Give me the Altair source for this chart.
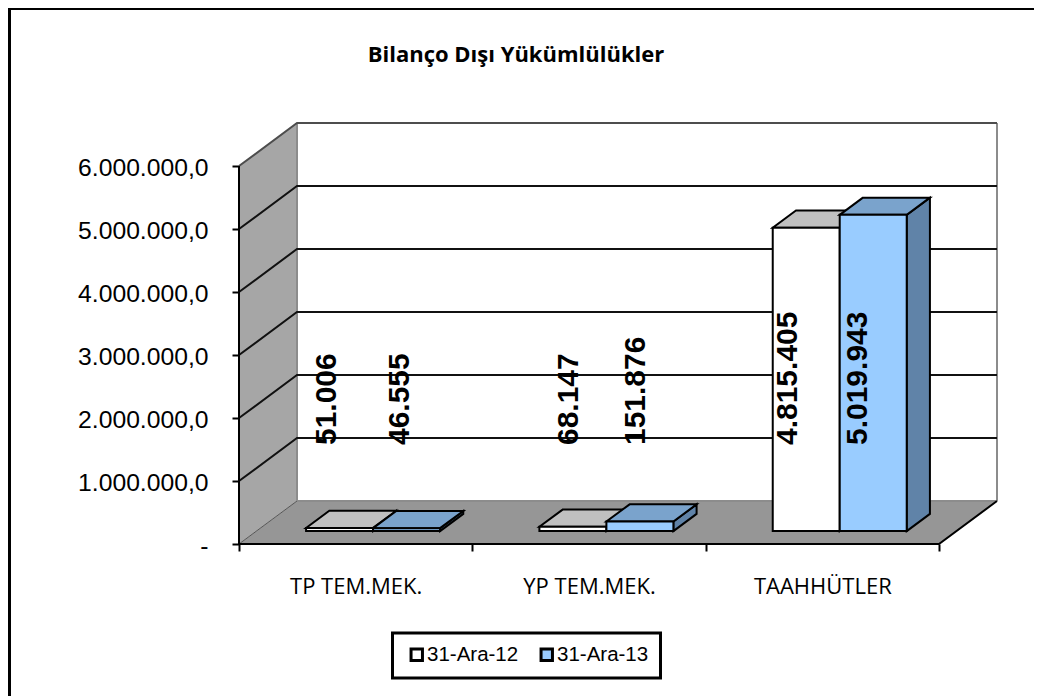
import json
import altair as alt
import pandas as pd

CATEGORIES = ["TP TEM.MEK.", "YP TEM.MEK.", "TAAHHÜTLER"]
SERIES = ["31-Ara-12", "31-Ara-13"]
VALUES_12 = [51006, 68147, 4815405]
VALUES_13 = [46555, 151876, 5019943]
LABELS_12 = ["51.006", "68.147", "4.815.405"]
LABELS_13 = ["46.555", "151.876", "5.019.943"]
LABEL_SHIFT_12 = [-0.056, -0.017, -0.077]
LABEL_SHIFT_13 = [-0.026, -0.017, -0.064]
TICKS = [0, 1000000, 2000000, 3000000, 4000000, 5000000, 6000000]
TICK_LABELS = ["-", "1.000.000,0", "2.000.000,0", "3.000.000,0", "4.000.000,0", "5.000.000,0", "6.000.000,0"]
LABEL_BASE = 1571000

# oblique projection: one unit of depth, in the units of the two scales
DX = 0.2486
DY = 682540
BAR_W = 0.2871
GAP = 0.2129
D0, D1 = 0.3, 0.7
XMAX = 3 + DX
YMAX = 6000000 + DY

FRONT = {"31-Ara-12": "#FFFFFF", "31-Ara-13": "#99CCFF"}
TOP = {"31-Ara-12": "#C0C0C0", "31-Ara-13": "#7AA3CC"}
SIDE = {"31-Ara-12": "#A0A0A0", "31-Ara-13": "#6083A8"}

xs = alt.Scale(domain=[0, XMAX], nice=False, zero=False)
ys = alt.Scale(domain=[0, YMAX], nice=False, zero=False)


def X(f="x", axis=None):
    return alt.X(f"{f}:Q", scale=xs, axis=axis, stack=None, title=None)


def Y(f="y", axis=None):
    return alt.Y(f"{f}:Q", scale=ys, axis=axis, stack=None, title=None)


X2 = alt.X2("x2:Q")
Y2 = alt.Y2("y2:Q")

bars = []
for s, (name, vals, labs, shifts) in enumerate(
    [(SERIES[0], VALUES_12, LABELS_12, LABEL_SHIFT_12), (SERIES[1], VALUES_13, LABELS_13, LABEL_SHIFT_13)]
):
    for c, (v, l, sh) in enumerate(zip(vals, labs, shifts)):
        left = c + GAP + s * BAR_W + D0 * DX
        bars.append(
            dict(id=f"{s}-{c}", series=name, cat=CATEGORIES[c], value=v, label=l,
                 x=left, x2=left + BAR_W, y=D0 * DY, y2=D0 * DY + v,
                 tx=left + BAR_W / 2 + sh, ty=LABEL_BASE)
        )
bars_df = pd.DataFrame(bars)

sides, tops = [], []
for b in bars:
    d = (D1 - D0)
    r = b["x2"]
    sides += [
        dict(id=b["id"], x=r, y=b["y"], y2=b["y2"], fill=SIDE[b["series"]]),
        dict(id=b["id"], x=r + d * DX, y=b["y"] + d * DY, y2=b["y2"] + d * DY, fill=SIDE[b["series"]]),
    ]
    tops += [
        dict(id=b["id"], y=b["y2"], x=b["x"], x2=b["x2"], fill=TOP[b["series"]]),
        dict(id=b["id"], y=b["y2"] + d * DY, x=b["x"] + d * DX, x2=b["x2"] + d * DX, fill=TOP[b["series"]]),
    ]
sides_df = pd.DataFrame(sides)
tops_df = pd.DataFrame(tops)

floor_df = pd.DataFrame([dict(y=0, x=0, x2=3), dict(y=DY, x=DX, x2=3 + DX)])
wall_df = pd.DataFrame([dict(x=0, y=0, y2=6000000), dict(x=DX, y=DY, y2=YMAX)])

grid = []
for v in TICKS[1:-1]:
    grid += [dict(id=v, i=0, x=0, y=v), dict(id=v, i=1, x=DX, y=v + DY), dict(id=v, i=2, x=XMAX, y=v + DY)]
grid_df = pd.DataFrame(grid)

outer = pd.DataFrame(
    [dict(id="top", i=0, x=0, y=6000000), dict(id="top", i=1, x=DX, y=YMAX), dict(id="top", i=2, x=XMAX, y=YMAX)]
)
wall_edge = pd.DataFrame(
    [dict(id="a", i=0, x=DX, y=DY), dict(id="a", i=1, x=DX, y=YMAX),
     dict(id="b", i=0, x=DX, y=DY), dict(id="b", i=1, x=XMAX, y=DY),
     dict(id="c", i=0, x=XMAX, y=DY), dict(id="c", i=1, x=XMAX, y=YMAX)]
)
dark_edge = pd.DataFrame(
    [dict(id="a", i=0, x=0, y=0), dict(id="a", i=1, x=0, y=6000000),
     dict(id="b", i=0, x=0, y=0), dict(id="b", i=1, x=3, y=0), dict(id="b", i=2, x=XMAX, y=DY)]
)
thin_edge = pd.DataFrame([dict(id="a", i=0, x=0, y=0), dict(id="a", i=1, x=DX, y=DY)])

tick_expr = f"{json.dumps(TICK_LABELS)}[datum.value / 1000000]"
cat_expr = (
    f"datum.value === 0.5 ? '{CATEGORIES[0]}' : datum.value === 1.5 ? '{CATEGORIES[1]}' : "
    f"datum.value === 2.5 ? '{CATEGORIES[2]}' : ''"
)

y_axis = alt.Axis(values=TICKS, labelExpr=tick_expr, domain=False, grid=False, tickColor="black",
                  tickWidth=2, tickSize=7, labelFont="Liberation Sans", labelFontSize=24.7, labelColor="black",
                  labelPadding=24, labelOverlap=False, labelOffset=2)
x_axis = alt.Axis(values=[0, 0.5, 1, 1.5, 2, 2.5, 3], labelExpr=cat_expr, domain=False, grid=False,
                  tickColor="black", tickWidth=2, tickSize=7,
                  tickOpacity={"condition": {"test": "datum.value % 1 === 0", "value": 1}, "value": 0},
                  labelFont="Open Sans", labelFontSize=22, labelColor="black", labelPadding=25,
                  labelOverlap=False, labelFlush=False)

floor = alt.Chart(floor_df).mark_area(orient="horizontal", color="#969696").encode(y=Y(), x=X(), x2=X2)
wall = alt.Chart(wall_df).mark_area(orient="vertical", color="#A6A6A6").encode(x=X(), y=Y(), y2=Y2)
line_enc = dict(x=X(), y=Y(), detail="id:N", order="i:Q")
thin = alt.Chart(thin_edge).mark_line(color="#555555", strokeWidth=1).encode(**line_enc)
edges = alt.Chart(wall_edge).mark_line(color="#8C8C8C", strokeWidth=2).encode(**line_enc)
outer_l = alt.Chart(outer).mark_line(color="#4D4D4D", strokeWidth=2).encode(**line_enc)
gridl = alt.Chart(grid_df).mark_line(color="#111111", strokeWidth=2).encode(**line_enc)
dark = alt.Chart(dark_edge).mark_line(color="black", strokeWidth=2).encode(**line_enc)

side_l = alt.Chart(sides_df).mark_area(orient="vertical", stroke="black", strokeWidth=2).encode(
    x=X(), y=Y(), y2=Y2, detail="id:N", fill=alt.Fill("fill:N", scale=None)
)
top_l = alt.Chart(tops_df).mark_area(orient="horizontal", stroke="black", strokeWidth=2).encode(
    y=Y(), x=X(), x2=X2, detail="id:N", fill=alt.Fill("fill:N", scale=None)
)
front = alt.Chart(bars_df).mark_rect(stroke="black", strokeWidth=2).encode(
    x=X(axis=x_axis),
    x2=X2,
    y=Y(axis=y_axis),
    y2=Y2,
    color=alt.Color(
        "series:N",
        scale=alt.Scale(domain=SERIES, range=[FRONT[SERIES[0]], FRONT[SERIES[1]]]),
        legend=alt.Legend(
            title=None, orient="none", legendX=153.5, legendY=510, direction="horizontal",
            fillColor="white", strokeColor="black", padding=11.5,
            symbolType="square", symbolSize=130, symbolStrokeColor="black", symbolStrokeWidth=3,
            labelFont="Liberation Sans", labelFontSize=20.5, labelColor="black", labelOffset=0,
            columnPadding=15, symbolOffset=2.5,
        ),
    ),
)
labels = alt.Chart(bars_df).mark_text(
    angle=270, align="left", baseline="middle", font="Liberation Sans", fontWeight="bold", fontSize=30, color="black"
).encode(x=X("tx"), y=Y("ty"), text="label:N")

frame_l = alt.Chart(pd.DataFrame({"a": [0]})).mark_rule(color="black", strokeWidth=3, clip=False).encode(
    x=alt.value(-229.5), y=alt.value(-115), y2=alt.value(573)
)
frame_t = alt.Chart(pd.DataFrame({"a": [0]})).mark_rule(color="black", strokeWidth=2, clip=False).encode(
    y=alt.value(-114), x=alt.value(-231), x2=alt.value(795)
)

chart = alt.layer(
    frame_l, frame_t, wall, floor, thin, edges, outer_l, gridl, dark, side_l, top_l, front, labels
).resolve_axis(x="independent", y="independent").properties(
    width=758,
    height=421,
    autosize="none",
    padding={"left": 231, "top": 115, "right": 37, "bottom": 152},
    title=alt.TitleParams(
        "Bilanço Dışı Yükümlülükler", font="Open Sans", fontWeight="bold", fontSize=22, color="black",
        anchor="middle", frame="group", dx=-102, offset=-60,
    ),
    background="white",
).configure_view(stroke=None).configure_legend(strokeWidth=3)

chart.save("out.html", embed_options={"renderer": "svg", "actions": False})
